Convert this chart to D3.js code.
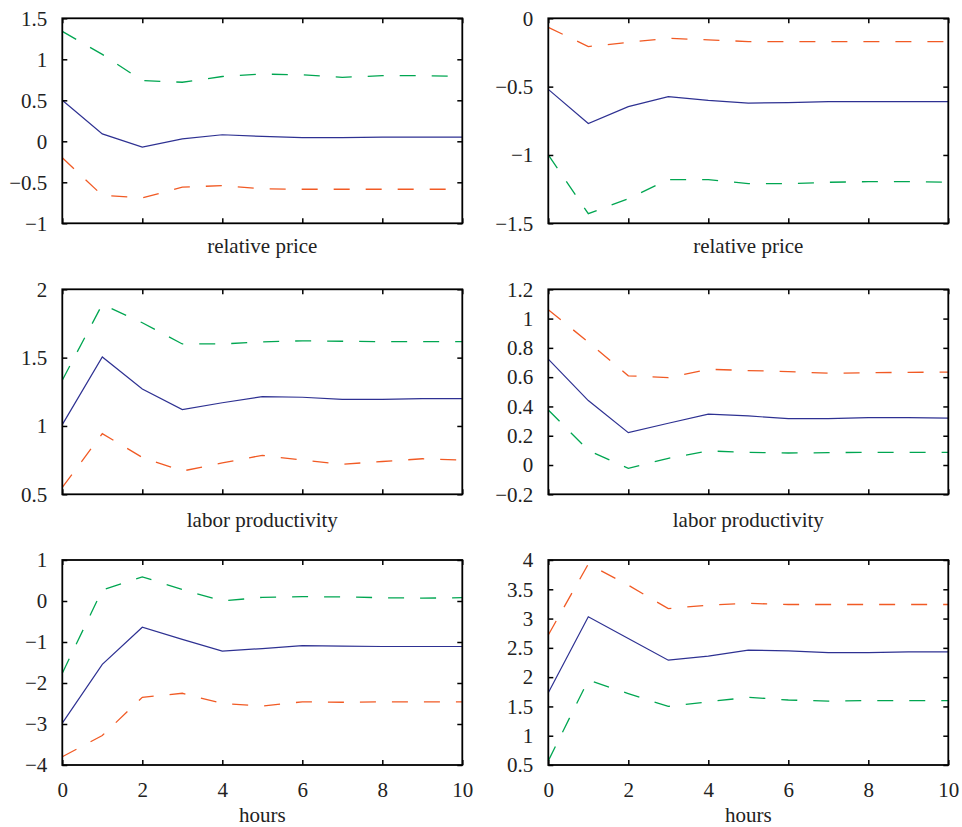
<!DOCTYPE html>
<html>
<head>
<meta charset="utf-8">
<script src="https://cdn.jsdelivr.net/npm/d3@7"></script>
<style>
  body { margin: 0; background: #fff; }
  text { font-family: "Liberation Serif", "Times New Roman", serif; fill: #222; }
</style>
</head>
<body>
<div id="chart"></div>
<script>
var width = 962, height = 827;

var hours = [0, 1, 2, 3, 4, 5, 6, 7, 8, 9, 10];
var xTicks = [0, 2, 4, 6, 8, 10];

// left column
var priceA_mid   = [0.50, 0.09, -0.07, 0.03, 0.08, 0.06, 0.045, 0.045, 0.05, 0.05, 0.05];
var priceA_green = [1.34, 1.06, 0.74, 0.72, 0.79, 0.82, 0.81, 0.78, 0.80, 0.80, 0.79];
var priceA_red   = [-0.20, -0.66, -0.69, -0.56, -0.54, -0.58, -0.585, -0.585, -0.585, -0.585, -0.585];

var prodA_mid    = [1.01, 1.505, 1.27, 1.12, 1.17, 1.215, 1.21, 1.195, 1.195, 1.20, 1.20];
var prodA_green  = [1.335, 1.89, 1.755, 1.60, 1.60, 1.615, 1.623, 1.62, 1.617, 1.617, 1.617];
var prodA_red    = [0.55, 0.944, 0.77, 0.67, 0.73, 0.785, 0.75, 0.72, 0.74, 0.76, 0.75];

var hoursA_mid   = [-2.98, -1.545, -0.64, -0.935, -1.22, -1.16, -1.09, -1.10, -1.11, -1.11, -1.11];
var hoursA_green = [-1.76, 0.27, 0.59, 0.28, 0.0, 0.09, 0.105, 0.10, 0.08, 0.07, 0.08];
var hoursA_red   = [-3.80, -3.28, -2.35, -2.25, -2.50, -2.56, -2.46, -2.47, -2.46, -2.46, -2.46];

// right column
var priceB_mid   = [-0.52, -0.77, -0.646, -0.573, -0.60, -0.62, -0.617, -0.61, -0.61, -0.61, -0.61];
var priceB_red   = [-0.066, -0.207, -0.176, -0.146, -0.158, -0.17, -0.17, -0.17, -0.17, -0.17, -0.17];
var priceB_green = [-1.00, -1.43, -1.32, -1.18, -1.18, -1.21, -1.21, -1.20, -1.195, -1.195, -1.20];

var prodB_mid    = [0.723, 0.44, 0.221, 0.285, 0.347, 0.335, 0.317, 0.317, 0.324, 0.324, 0.32];
var prodB_red    = [1.06, 0.84, 0.609, 0.597, 0.654, 0.645, 0.638, 0.627, 0.63, 0.633, 0.634];
var prodB_green  = [0.376, 0.10, -0.023, 0.046, 0.096, 0.087, 0.082, 0.084, 0.087, 0.087, 0.087];

var hoursB_mid   = [1.735, 3.03, 2.66, 2.29, 2.36, 2.46, 2.45, 2.42, 2.42, 2.43, 2.43];
var hoursB_red   = [2.72, 3.93, 3.57, 3.17, 3.23, 3.26, 3.24, 3.24, 3.24, 3.24, 3.24];
var hoursB_green = [0.57, 1.95, 1.72, 1.50, 1.58, 1.655, 1.61, 1.59, 1.60, 1.60, 1.60];

var yTicks = [
  [-1, -0.5, 0, 0.5, 1, 1.5],
  [-1.5, -1, -0.5, 0],
  [0.5, 1, 1.5, 2],
  [-0.2, 0, 0.2, 0.4, 0.6, 0.8, 1, 1.2],
  [-4, -3, -2, -1, 0, 1],
  [0.5, 1, 1.5, 2, 2.5, 3, 3.5, 4]
];
var titles = ["relative price", "relative price", "labor productivity", "labor productivity", "hours", "hours"];

var panels = [
  {mid: priceA_mid, green: priceA_green, red: priceA_red},
  {mid: priceB_mid, green: priceB_green, red: priceB_red},
  {mid: prodA_mid,  green: prodA_green,  red: prodA_red},
  {mid: prodB_mid,  green: prodB_green,  red: prodB_red},
  {mid: hoursA_mid, green: hoursA_green, red: hoursA_red},
  {mid: hoursB_mid, green: hoursB_green, red: hoursB_red}
];

var colLeft = [62.3, 548.3], panelW = 400;
var rowTop = [18.3, 289.3, 560], panelH = 205;
var titleY = [253, 527, 822];

var colors = {mid: "#2e3192", green: "#00a651", red: "#f15a24"};

var svg = d3.select("#chart")
            .append("svg")
            .attr("width", width)
            .attr("height", height);

panels.forEach(function(p, i) {
    var col = i % 2, row = Math.floor(i / 2);
    var ticks = yTicks[i];
    var g = svg.append("g")
               .attr("transform", "translate(" + colLeft[col] + "," + rowTop[row] + ")");

    var x = d3.scaleLinear().domain([0, 10]).range([0, panelW]);
    var y = d3.scaleLinear().domain([ticks[0], ticks[ticks.length - 1]]).range([panelH, 0]);

    var line = d3.line()
                 .x(function(d, j) { return x(hours[j]); })
                 .y(function(d) { return y(d); });

    ["green", "red"].forEach(function(k) {
        g.append("path")
         .attr("d", line(p[k]))
         .attr("fill", "none")
         .attr("stroke", colors[k])
         .attr("stroke-width", 1.3)
         .attr("stroke-dasharray", "16,16");
    });
    g.append("path")
     .attr("d", line(p.mid))
     .attr("fill", "none")
     .attr("stroke", colors.mid)
     .attr("stroke-width", 1.2);

    // axes, ticks pointing inward
    var left = g.append("g")
        .call(d3.axisLeft(y).tickValues(ticks).tickSize(-5).tickPadding(15).tickFormat(d3.format("")));
    var right = g.append("g")
        .attr("transform", "translate(" + panelW + ",0)")
        .call(d3.axisRight(y).tickValues(ticks).tickSize(-5).tickFormat(""));
    var top = g.append("g")
        .call(d3.axisTop(x).tickValues(xTicks).tickSize(-5).tickFormat(""));
    var bottom = g.append("g")
        .attr("transform", "translate(0," + panelH + ")")
        .call(d3.axisBottom(x).tickValues(xTicks).tickSize(-5).tickPadding(17)
              .tickFormat(row === 2 ? d3.format("") : ""));

    [left, right, top, bottom].forEach(function(a) {
        a.select(".domain").remove();
        a.selectAll("line").attr("stroke", "#000").attr("stroke-width", 1.5);
        a.selectAll("text").attr("font-size", 21).attr("fill", "#222");
    });

    g.append("rect")
     .attr("width", panelW)
     .attr("height", panelH)
     .attr("fill", "none")
     .attr("stroke", "#000")
     .attr("stroke-width", 1.8);

    svg.append("text")
       .attr("x", colLeft[col] + panelW / 2)
       .attr("y", titleY[row])
       .attr("text-anchor", "middle")
       .attr("font-size", 21)
       .text(titles[i]);
});
</script>
</body>
</html>
